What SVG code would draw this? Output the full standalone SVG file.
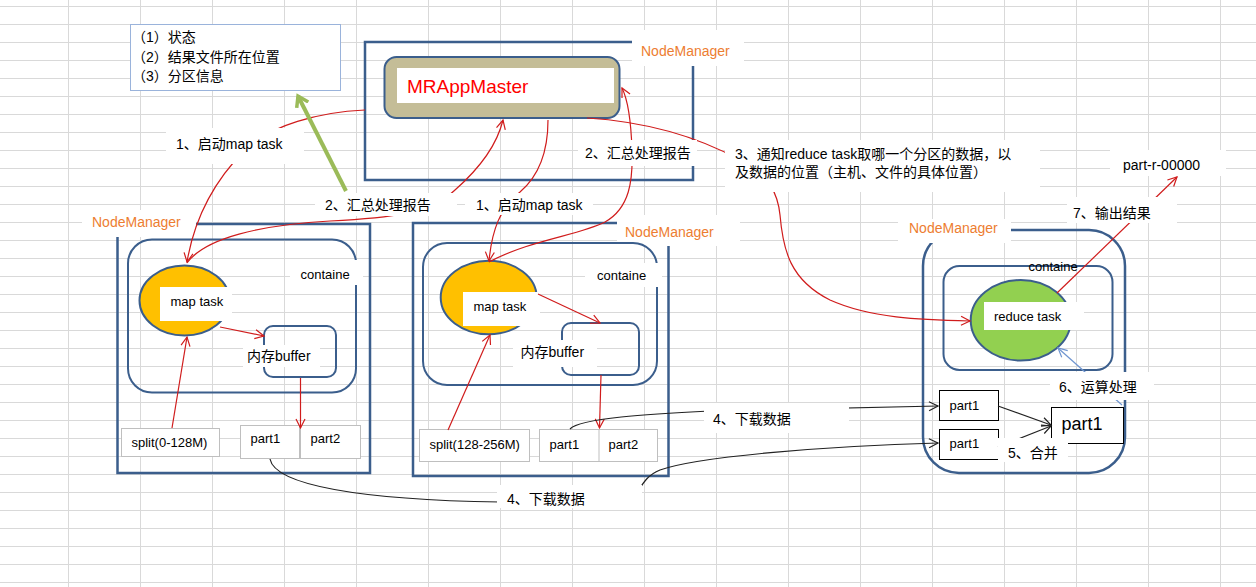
<svg xmlns="http://www.w3.org/2000/svg" width="1256" height="587" viewBox="0 0 1256 587">
<defs>
<pattern id="grid" x="68" y="6" width="72" height="18" patternUnits="userSpaceOnUse">
<path d="M0.5,0 V18 M0,0.5 H72" stroke="#d9d9d9" stroke-width="1" fill="none"/>
</pattern>
<marker id="ar" markerWidth="12" markerHeight="12" refX="10" refY="5" orient="auto" markerUnits="userSpaceOnUse" viewBox="0 0 12 10">
<path d="M1,0.5 L10,5 L1,9.5" fill="none" stroke="#d01c1c" stroke-width="1.2"/>
</marker>
<marker id="ak" markerWidth="12" markerHeight="12" refX="10" refY="5" orient="auto" markerUnits="userSpaceOnUse" viewBox="0 0 12 10">
<path d="M1,0.5 L10,5 L1,9.5" fill="none" stroke="#222" stroke-width="1.2"/>
</marker>
<marker id="ab" markerWidth="12" markerHeight="12" refX="10" refY="5" orient="auto" markerUnits="userSpaceOnUse" viewBox="0 0 12 10">
<path d="M1,0.5 L10,5 L1,9.5" fill="none" stroke="#6f95d0" stroke-width="1.2"/>
</marker>
<marker id="ag" markerWidth="22" markerHeight="22" refX="11" refY="8" orient="auto" markerUnits="userSpaceOnUse" viewBox="0 0 22 16">
<path d="M1,1.5 L11,8 L1,14.5" fill="none" stroke="#9bbb59" stroke-width="3.5"/>
</marker>
</defs>
<style>
text{font-family:"Liberation Sans","Noto Sans CJK SC",sans-serif;fill:#000}
.lbl{font-size:14px}
.nm{font-size:14px;fill:#ed7d31}
.sm{font-size:13px}
.ol{fill:none;stroke:#3b5e8c;stroke-width:2.5}
.ct{fill:none;stroke:#3b5e8c;stroke-width:2}
.bg{fill:#fff;stroke:none}
.gb{fill:#fff;stroke:#bfbfbf;stroke-width:1}
.kb{fill:#fff;stroke:#000;stroke-width:1}
.red{fill:none;stroke:#d01c1c;stroke-width:1.2}
.blk{fill:none;stroke:#222;stroke-width:1.2}
</style>
<rect width="1256" height="587" fill="#fff"/>
<rect width="1256" height="587" fill="url(#grid)"/>

<g id="info">
<rect x="130.5" y="24.5" width="210" height="66" fill="#fff" stroke="#9ab3db" stroke-width="1"/>
<text class="lbl" x="132" y="42">（1）状态</text>
<text class="lbl" x="132" y="62">（2）结果文件所在位置</text>
<text class="lbl" x="132" y="81">（3）分区信息</text>
</g>

<g id="nm-master">
<rect class="ol" x="365" y="42" width="328" height="138"/>
<rect x="384.5" y="57" width="235" height="61" rx="12" fill="#c4bd97" stroke="#3b5e8c" stroke-width="2"/>
<rect class="bg" x="397" y="68" width="217" height="35"/>
<text x="407" y="93" style="font-size:19px;fill:#ff0000">MRAppMaster</text>
<rect class="bg" x="632" y="30" width="112" height="36"/>
<text class="nm" x="641" y="56">NodeManager</text>
</g>

<g id="nm-left">
<rect class="ol" x="117.5" y="224" width="252.5" height="249"/>
<rect class="bg" x="82" y="210" width="114" height="27"/>
<text class="nm" x="92" y="227">NodeManager</text>
<rect class="ct" x="128" y="239.5" width="228" height="153" rx="24"/>
<rect class="bg" x="290" y="260" width="73" height="25"/>
<text class="sm" x="300.5" y="278.5">containe</text>
<ellipse cx="184.5" cy="300.5" rx="45" ry="35" fill="#ffc000" stroke="#3b5e8c" stroke-width="2"/>
<rect class="bg" x="160" y="287" width="72" height="34"/>
<text class="sm" x="170.5" y="306">map task</text>
<rect class="ct" x="264" y="326" width="72" height="51" rx="9"/>
<rect class="bg" x="243" y="345" width="77" height="22"/>
<text class="lbl" x="247" y="361">内存buffer</text>
<rect class="gb" x="121.5" y="428.5" width="98" height="28"/>
<text class="sm" x="131.5" y="447">split(0-128M)</text>
<rect class="gb" x="240.5" y="425.5" width="59" height="33"/>
<rect class="gb" x="300.5" y="425.5" width="60" height="33"/>
<text class="sm" x="250.5" y="443">part1</text>
<text class="sm" x="310.5" y="443">part2</text>
</g>

<g id="nm-mid">
<rect class="ol" x="413" y="223" width="255.5" height="253"/>
<rect class="bg" x="617" y="215" width="123" height="31"/>
<text class="nm" x="625" y="237">NodeManager</text>
<rect class="ct" x="423" y="243" width="234" height="142" rx="24"/>
<rect class="bg" x="585" y="263" width="77" height="24"/>
<text class="sm" x="597" y="280">containe</text>
<ellipse cx="488.7" cy="297.5" rx="48" ry="36.7" fill="#ffc000" stroke="#3b5e8c" stroke-width="2"/>
<rect class="bg" x="463" y="292" width="77" height="34"/>
<text class="sm" x="473.5" y="311">map task</text>
<rect class="ct" x="562" y="323" width="77" height="52" rx="9"/>
<rect class="bg" x="513" y="340" width="84" height="27"/>
<text class="lbl" x="520.5" y="357">内存buffer</text>
<rect class="gb" x="419.5" y="429.5" width="110" height="32"/>
<text class="sm" x="429.5" y="448.5">split(128-256M)</text>
<rect class="gb" x="539.5" y="429.5" width="118" height="32"/>
<line x1="599" y1="429.5" x2="599" y2="461.5" stroke="#bfbfbf" stroke-width="1"/>
<text class="sm" x="549.5" y="448.5">part1</text>
<text class="sm" x="608.5" y="448.5">part2</text>
</g>

<g id="nm-right">
<rect class="ol" x="923" y="230" width="202" height="243" rx="36"/>
<rect class="bg" x="898" y="219" width="113" height="24"/>
<text class="nm" x="909" y="233">NodeManager</text>
<rect class="ct" x="943.5" y="266" width="169" height="104" rx="16"/>
<text class="sm" x="1028.5" y="271">containe</text>
<ellipse cx="1020.7" cy="320.3" rx="50" ry="40.3" fill="#92d050" stroke="#3b5e8c" stroke-width="2"/>
<rect class="bg" x="984" y="302" width="100" height="28"/>
<text class="sm" x="994" y="320.5">reduce task</text>
<rect class="kb" x="939.5" y="390.5" width="59" height="30"/>
<text class="sm" x="949.5" y="409.5">part1</text>
<rect class="kb" x="939.5" y="429.5" width="59" height="30"/>
<text class="sm" x="949.5" y="448">part1</text>
<rect class="kb" x="1051.5" y="407.5" width="72" height="36"/>
<text x="1061.5" y="430" style="font-size:18px">part1</text>
</g>

<g id="connectors">
<path class="red" d="M365,110 C320,112 270,125 245,150 C215,180 195,215 187,262" marker-end="url(#ar)"/>
<path class="red" d="M187,263 C205,238 260,225 330,221 C390,218 430,214 455,190 C480,168 497,145 503,120" marker-end="url(#ar)"/>
<path class="red" d="M548,120 C548,150 540,175 520,192 C500,208 492,230 489,261" marker-end="url(#ar)"/>
<path class="red" d="M489,262 C530,240 580,235 605,222 C630,208 633,180 632,150 C631,120 628,100 622,88" marker-end="url(#ar)"/>
<path class="red" d="M587,118 C650,122 700,138 740,160 C770,175 778,195 780,215 C783,250 790,280 830,300 C870,318 920,320 970,321" marker-end="url(#ar)"/>
<path class="red" d="M1057,293 L1177,177" marker-end="url(#ar)"/>
<path d="M1122,405 L1058,348" fill="none" stroke="#6f95d0" stroke-width="1.2" marker-end="url(#ab)"/>
<path class="red" d="M172,428 L187,337" marker-end="url(#ar)"/>
<path class="red" d="M220,327 L264,336" marker-end="url(#ar)"/>
<path class="red" d="M300.5,378 L300.5,428" marker-end="url(#ar)"/>
<path class="red" d="M448,430 L490,335" marker-end="url(#ar)"/>
<path class="red" d="M538,294 L600,323" marker-end="url(#ar)"/>
<path class="red" d="M601,375 L599.5,428" marker-end="url(#ar)"/>
<path class="blk" d="M570,429 C580,418 650,414 710,411 L938,406" marker-end="url(#ak)"/>
<path class="blk" d="M270,459 C275,485 360,500 500,502 L630,500 C640,495 640,478 660,470 C700,456 830,446 938,443" marker-end="url(#ak)"/>
<path class="blk" d="M998,406 L1051,425" marker-end="url(#ak)"/>
<path class="blk" d="M998,447 L1051,426" marker-end="url(#ak)"/>
<path d="M346,191 L298,96" fill="none" stroke="#9bbb59" stroke-width="4" marker-end="url(#ag)"/>

<rect class="bg" x="166" y="128" width="138" height="36"/>
<text class="lbl" x="176" y="149">1、启动map task</text>
<rect class="bg" x="315" y="193" width="142" height="23"/>
<text class="lbl" x="325" y="210">2、汇总处理报告</text>
<rect class="bg" x="465" y="193" width="128" height="22"/>
<text class="lbl" x="476" y="210">1、启动map task</text>
<rect class="bg" x="578" y="140" width="119" height="26"/>
<text class="lbl" x="585" y="158">2、汇总处理报告</text>
<rect class="bg" x="725" y="140" width="315" height="52"/>
<text class="lbl" x="735" y="159">3、通知reduce task取哪一个分区的数据，以</text>
<text class="lbl" x="735" y="177">及数据的位置（主机、文件的具体位置）</text>
<rect class="bg" x="1110" y="150" width="116" height="26"/>
<text class="lbl" x="1123" y="170">part-r-00000</text>
<rect class="bg" x="1067" y="197" width="110" height="26"/>
<text class="lbl" x="1073" y="218">7、输出结果</text>
<rect class="bg" x="1050" y="372" width="104" height="28"/>
<text class="lbl" x="1059" y="392">6、运算处理</text>
<rect class="bg" x="998" y="438" width="70" height="24"/>
<text class="lbl" x="1008" y="458">5、合并</text>
<rect class="bg" x="704" y="403" width="145" height="30"/>
<text class="lbl" x="713" y="424">4、下载数据</text>
<rect class="bg" x="497" y="485" width="145" height="23"/>
<text class="lbl" x="507" y="504">4、下载数据</text>
</g>
</svg>
